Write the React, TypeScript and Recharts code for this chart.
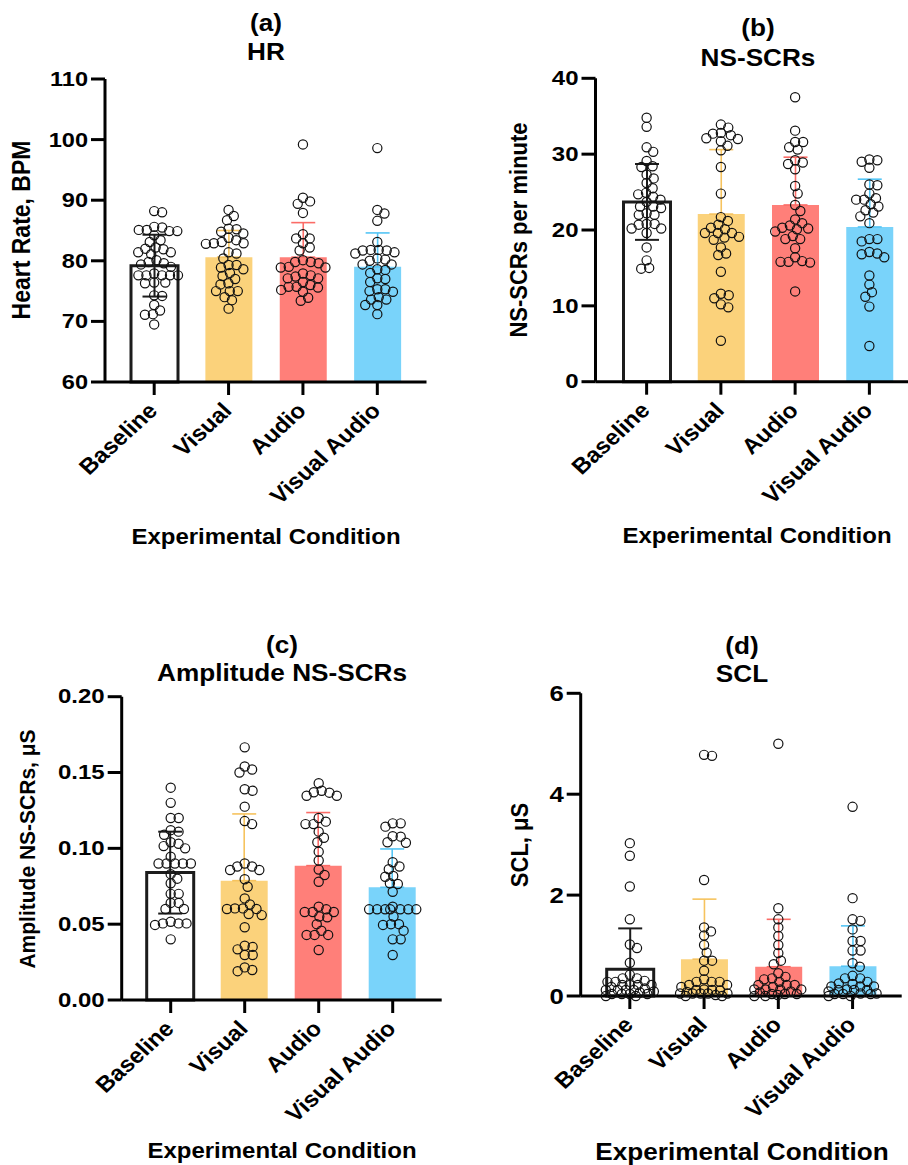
import React from "react";
import { Bar, Cell, ComposedChart, ErrorBar, Scatter, XAxis, YAxis } from "recharts";

const FONT = '"Liberation Sans", Arial, Helvetica, sans-serif';
const W = 908;
const H = 1165;

const conditions = ["Baseline", "Visual", "Audio", "Visual Audio"];
const barFill = ["#ffffff", "#fbd27b", "#ff7f79", "#79d3fa"];
const errStroke = ["#1c1c1c", "#f6c35e", "#fb6c67", "#54c5f5"];

// (a) heart rate
const hrMean = [79.2, 80.6, 80.6, 79.0];
const hrSd = [5.1, 4.4, 5.7, 5.6];
const hrBaseline = [88.2, 88.0, 85.6, 85.5, 85.1, 85.1, 84.9, 84.9, 84.2, 83.4, 83.1, 82.2, 82.0, 81.9, 81.4, 81.4, 81.1, 80.1, 79.8, 79.6, 79.4, 79.0, 77.9, 77.6, 77.6, 77.6, 77.6, 77.6, 76.4, 76.4, 76.3, 74.3, 74.2, 72.7, 71.8, 71.2, 71.1, 69.5];
const hrVisual = [88.4, 87.4, 86.7, 85.3, 85.2, 84.8, 84.5, 83.8, 83.4, 83.1, 82.9, 82.9, 82.8, 81.4, 81.2, 80.4, 79.3, 79.3, 78.9, 78.6, 78.0, 77.5, 77.0, 76.3, 76.1, 75.0, 75.0, 75.0, 74.0, 73.5, 72.1];
const hrAudio = [99.2, 90.4, 89.8, 89.4, 87.9, 84.4, 83.7, 83.7, 82.9, 82.2, 81.7, 80.1, 79.8, 79.8, 79.6, 79.0, 78.9, 78.9, 77.9, 77.6, 77.4, 77.1, 77.1, 76.5, 76.0, 75.7, 75.7, 75.6, 75.2, 74.9, 73.9, 73.4];
const hrVisualAudio = [98.6, 88.4, 87.8, 86.6, 83.1, 81.8, 81.8, 81.7, 81.7, 81.4, 81.2, 80.4, 80.2, 80.0, 79.4, 79.4, 78.6, 78.5, 78.0, 77.1, 77.0, 76.5, 75.3, 75.3, 75.0, 74.9, 74.0, 73.6, 73.6, 72.7, 72.7, 71.2];

// (b) NS-SCRs per minute
const scrMean = [23.7, 22.1, 23.3, 20.4];
const scrSd = [5.0, 8.5, 6.3, 6.3];
const scrBaseline = [34.8, 33.6, 30.9, 30.3, 29.1, 28.4, 28.3, 27.3, 26.8, 26.2, 25.5, 24.9, 24.7, 24.4, 24.0, 23.7, 23.1, 23.1, 22.9, 22.2, 22.0, 22.0, 20.8, 20.8, 20.7, 20.2, 20.2, 19.6, 17.7, 16.0, 15.0, 14.9];
const scrVisual = [33.9, 33.5, 32.8, 32.7, 32.5, 32.1, 32.0, 31.7, 31.1, 30.5, 28.3, 24.8, 21.7, 21.2, 20.7, 20.3, 20.1, 19.6, 19.6, 19.6, 19.1, 19.0, 18.7, 17.7, 16.9, 16.7, 14.5, 11.6, 11.4, 11.0, 10.2, 9.8, 5.4];
const scrAudio = [37.5, 33.1, 31.6, 31.6, 30.9, 30.6, 29.2, 28.9, 28.7, 28.0, 25.8, 24.8, 23.3, 22.5, 21.4, 20.9, 20.6, 20.3, 20.2, 20.1, 19.8, 19.2, 18.8, 18.8, 17.6, 16.4, 15.9, 15.8, 15.8, 15.7, 11.9];
const scrVisualAudio = [29.3, 29.2, 29.0, 28.2, 26.0, 25.9, 24.8, 24.2, 24.0, 24.0, 23.4, 23.1, 22.6, 22.3, 21.8, 20.9, 18.8, 18.8, 18.5, 17.1, 16.9, 16.8, 16.4, 14.0, 12.8, 11.8, 11.2, 9.9, 4.7];

// (c) amplitude of NS-SCRs
const ampMean = [0.084, 0.0787, 0.0886, 0.0743];
const ampSd = [0.027, 0.044, 0.035, 0.0253];
const ampBaseline = [0.14, 0.13, 0.12, 0.12, 0.112, 0.111, 0.109, 0.104, 0.103, 0.1015, 0.1, 0.0945, 0.09, 0.09, 0.09, 0.09, 0.09, 0.083, 0.08, 0.077, 0.07, 0.07, 0.064, 0.064, 0.06, 0.06, 0.0516, 0.0505, 0.0505, 0.0505, 0.0495, 0.04];
const ampVisual = [0.1666, 0.154, 0.152, 0.15, 0.139, 0.138, 0.1275, 0.118, 0.116, 0.09, 0.088, 0.088, 0.0857, 0.0857, 0.0796, 0.0747, 0.067, 0.063, 0.0604, 0.0604, 0.06, 0.06, 0.0567, 0.056, 0.048, 0.0358, 0.035, 0.0334, 0.0297, 0.0297, 0.0215, 0.0198, 0.019];
const ampAudio = [0.1429, 0.138, 0.137, 0.1367, 0.1347, 0.1347, 0.12, 0.1176, 0.116, 0.116, 0.111, 0.107, 0.104, 0.0978, 0.092, 0.086, 0.0824, 0.078, 0.0615, 0.0598, 0.058, 0.058, 0.058, 0.055, 0.0545, 0.05, 0.0457, 0.0429, 0.0429, 0.0429, 0.033];
const ampVisualAudio = [0.1165, 0.1165, 0.1143, 0.108, 0.1077, 0.104, 0.1037, 0.0908, 0.088, 0.0862, 0.0818, 0.0813, 0.077, 0.0765, 0.0714, 0.0615, 0.0598, 0.0598, 0.0598, 0.0598, 0.0598, 0.0598, 0.0598, 0.055, 0.05, 0.05, 0.0495, 0.0457, 0.04, 0.04, 0.0297];

// (d) skin conductance level
const sclMean = [0.53, 0.73, 0.58, 0.59];
const sclSd = [0.81, 1.19, 0.94, 0.8];
const sclBaseline = [3.03, 2.78, 2.17, 1.52, 1.02, 0.95, 0.66, 0.42, 0.35, 0.35, 0.3, 0.28, 0.28, 0.22, 0.22, 0.22, 0.22, 0.18, 0.15, 0.12, 0.12, 0.12, 0.12, 0.09, 0.07, 0.04, 0.04, 0.04, 0.04, 0.0, 0.0];
const sclVisual = [4.78, 4.76, 2.3, 1.36, 1.28, 1.2, 1.01, 0.86, 0.7, 0.7, 0.5, 0.33, 0.28, 0.28, 0.28, 0.22, 0.22, 0.18, 0.13, 0.12, 0.12, 0.11, 0.08, 0.05, 0.05, 0.05, 0.05, 0.05, 0.02, 0.0, 0.0];
const sclAudio = [5.0, 1.74, 1.52, 1.36, 1.19, 1.01, 0.85, 0.7, 0.63, 0.45, 0.38, 0.35, 0.33, 0.28, 0.22, 0.22, 0.22, 0.18, 0.13, 0.13, 0.13, 0.13, 0.09, 0.07, 0.04, 0.04, 0.04, 0.02, 0.0, 0.0];
const sclVisualAudio = [3.75, 1.94, 1.52, 1.49, 1.32, 1.09, 1.09, 0.9, 0.9, 0.65, 0.58, 0.4, 0.35, 0.35, 0.28, 0.25, 0.24, 0.19, 0.19, 0.19, 0.13, 0.12, 0.12, 0.12, 0.09, 0.05, 0.05, 0.04, 0.04, 0.04, 0.0, 0.0];

type PanelCfg = {
  box: { left: number; top: number; right: number; bottom: number };
  pad: [number, number];
  domain: [number, number];
  ticks: number[];
  decimals: number;
  mean: number[];
  sd: number[];
  dots: number[][];
  title: [string, string];
  titleAt: [number, number, number];
  yLabel: string;
  yLabelAt: [number, number];
  yLabelSize: number;
  xTitleAt: [number, number];
  xTitleSize: number;
  yTickSize: number;
  yTickSx: number;
};

const panels: PanelCfg[] = [
  {
    box: { left: 105, top: 79, right: 426.5, bottom: 382 },
    pad: [12, 12],
    domain: [60, 110],
    ticks: [60, 70, 80, 90, 100, 110],
    decimals: 0,
    mean: hrMean,
    sd: hrSd,
    dots: [hrBaseline, hrVisual, hrAudio, hrVisualAudio],
    title: ["(a)", "HR"],
    titleAt: [266, 23, 52],
    yLabel: "Heart Rate, BPM",
    yLabelAt: [21.5, 230],
    yLabelSize: 23,
    xTitleAt: [266, 537],
    xTitleSize: 22,
    yTickSize: 20.5,
    yTickSx: 1.15,
  },
  {
    box: { left: 595.5, top: 78.3, right: 908, bottom: 381.7 },
    pad: [14, 1.5],
    domain: [0, 40],
    ticks: [0, 10, 20, 30, 40],
    decimals: 0,
    mean: scrMean,
    sd: scrSd,
    dots: [scrBaseline, scrVisual, scrAudio, scrVisualAudio],
    title: ["(b)", "NS-SCRs"],
    titleAt: [757.5, 28, 58],
    yLabel: "NS-SCRs per minute",
    yLabelAt: [519, 230],
    yLabelSize: 22,
    xTitleAt: [757, 536],
    xTitleSize: 22,
    yTickSize: 20,
    yTickSx: 1.2,
  },
  {
    box: { left: 121.7, top: 696.7, right: 441.7, bottom: 1000 },
    pad: [12, 12],
    domain: [0, 0.2],
    ticks: [0, 0.05, 0.1, 0.15, 0.2],
    decimals: 2,
    mean: ampMean,
    sd: ampSd,
    dots: [ampBaseline, ampVisual, ampAudio, ampVisualAudio],
    title: ["(c)", "Amplitude NS-SCRs"],
    titleAt: [281.5, 645, 673],
    yLabel: "Amplitude NS-SCRs, \u03bcS",
    yLabelAt: [27, 849],
    yLabelSize: 21,
    xTitleAt: [281.5, 1151],
    xTitleSize: 22,
    yTickSize: 20,
    yTickSx: 1.2,
  },
  {
    box: { left: 580.7, top: 693.3, right: 901.7, bottom: 996 },
    pad: [12, 12],
    domain: [0, 6],
    ticks: [0, 2, 4, 6],
    decimals: 0,
    mean: sclMean,
    sd: sclSd,
    dots: [sclBaseline, sclVisual, sclAudio, sclVisualAudio],
    title: ["(d)", "SCL"],
    titleAt: [741.5, 646, 674],
    yLabel: "SCL, \u03bcS",
    yLabelAt: [520, 845],
    yLabelSize: 22,
    xTitleAt: [742, 1152],
    xTitleSize: 24,
    yTickSize: 23,
    yTickSx: 1.12,
  },
];

// beeswarm layout: horizontal pixel offsets so circles in one column do not pile up
function swarm(vals: number[], pxPerUnit: number): number[] {
  const D = 8;
  const MAX = 24;
  const order = vals.map((_, i) => i).sort((a, b) => vals[b] - vals[a]);
  const placed: { x: number; y: number }[] = [];
  const out = new Array(vals.length).fill(0);
  for (const i of order) {
    const y = vals[i] * pxPerUnit;
    const near = placed.filter((p) => Math.abs(p.y - y) < D);
    const cands = [0];
    for (const p of near) {
      const dx = Math.sqrt(D * D - (p.y - y) ** 2);
      cands.push(p.x + dx, p.x - dx);
    }
    const ok = cands
      .filter((c) => Math.abs(c) <= MAX + 1e-6 && near.every((p) => (p.x - c) ** 2 + (p.y - y) ** 2 >= D * D - 0.01))
      .sort((a, b) => Math.abs(a) - Math.abs(b));
    let x = 0;
    if (ok.length) {
      x = ok[0];
    } else {
      let best = Infinity;
      for (let c = -MAX; c <= MAX; c += 0.5) {
        let s = 0;
        for (const p of near) s += Math.max(0, D - Math.hypot(p.x - c, p.y - y)) ** 2;
        if (s < best - 1e-9 || (Math.abs(s - best) < 1e-9 && Math.abs(c) < Math.abs(x))) {
          best = s;
          x = c;
        }
      }
    }
    placed.push({ x, y });
    out[i] = x;
  }
  return out;
}

const Ring = (props: any) => (
  <circle cx={props.cx} cy={props.cy} r={4.6} fill="none" stroke="#111" strokeWidth={1.2} />
);

const XTick = (props: any) => {
  const { x, y, payload } = props;
  return (
    <text
      transform={`translate(${x + 4.5},${y + 15}) scale(1.09,1) rotate(-45)`}
      textAnchor="end"
      fontSize={22}
      fontWeight={700}
      fontFamily={FONT}
      fill="#000"
    >
      {payload.value}
    </text>
  );
};

const makeYTick = (decimals: number, size: number, sx: number) => (props: any) => {
  const { x, y, payload } = props;
  return (
    <text
      transform={`translate(${x},${y}) scale(${sx},1)`}
      textAnchor="end"
      dominantBaseline="central"
      fontSize={size}
      fontWeight={700}
      fontFamily={FONT}
      fill="#000"
    >
      {Number(payload.value).toFixed(decimals)}
    </text>
  );
};

const Txt = ({ x, y, size, rotate, children }: { x: number; y: number; size: number; rotate?: boolean; children: React.ReactNode }) => (
  <div
    style={{
      position: "absolute",
      left: x,
      top: y,
      transform: `translate(-50%,-50%) scaleX(1.09)${rotate ? " rotate(-90deg)" : ""}`,
      fontSize: size,
      fontWeight: 700,
      lineHeight: 1,
      whiteSpace: "nowrap",
      fontFamily: FONT,
      color: "#000",
    }}
  >
    {children}
  </div>
);

function Panel({ cfg }: { cfg: PanelCfg }) {
  const { box, pad, domain } = cfg;
  const band = (box.right - box.left - pad[0] - pad[1]) / 4;
  const pxPerUnit = (box.bottom - box.top) / (domain[1] - domain[0]);

  const rows = conditions.map((name, i) => {
    const row: any = { name, mean: cfg.mean[i] };
    const lower = i === 0 ? Math.min(cfg.sd[i], cfg.mean[i] - domain[0]) : 0;
    row[`e${i}`] = [lower, cfg.sd[i]];
    return row;
  });

  const points = cfg.dots.flatMap((vals, i) => {
    const offs = swarm(vals, pxPerUnit);
    return vals.map((v, k) => ({ x: 2 * i + 1 + (2 * offs[k]) / band, y: v }));
  });

  const axisStyle = { stroke: "#000", strokeWidth: 3 };

  return (
    <div style={{ position: "absolute", left: 0, top: 0 }}>
      <ComposedChart
        width={W}
        height={H}
        data={rows}
        margin={{ top: box.top, left: box.left - 60, right: W - box.right, bottom: H - box.bottom - 20 }}
      >
        <XAxis
          xAxisId="cat"
          dataKey="name"
          type="category"
          height={20}
          interval={0}
          padding={{ left: pad[0], right: pad[1] }}
          tickSize={13}
          tickMargin={2}
          axisLine={axisStyle}
          tickLine={axisStyle}
          tick={XTick}
        />
        <XAxis
          xAxisId="num"
          dataKey="x"
          type="number"
          domain={[0, 8]}
          tickCount={5}
          padding={{ left: pad[0], right: pad[1] }}
          hide
        />
        <YAxis
          type="number"
          domain={domain}
          ticks={cfg.ticks}
          tickCount={cfg.ticks.length}
          interval={0}
          width={60}
          tickSize={14}
          tickMargin={3}
          axisLine={axisStyle}
          tickLine={axisStyle}
          tick={makeYTick(cfg.decimals, cfg.yTickSize, cfg.yTickSx)}
        />
        <Bar xAxisId="cat" dataKey="mean" barSize={47} isAnimationActive={false}>
          {conditions.map((c, i) => (
            <Cell key={c} fill={barFill[i]} stroke={i === 0 ? "#1c1c1c" : "none"} strokeWidth={i === 0 ? 3 : 0} />
          ))}
          {conditions.map((c, i) => (
            <ErrorBar
              key={c}
              dataKey={`e${i}`}
              direction="y"
              width={12}
              stroke={errStroke[i]}
              strokeWidth={i === 0 ? 2 : 1.6}
              isAnimationActive={false}
            />
          ))}
        </Bar>
        <Scatter xAxisId="num" data={points} dataKey="y" shape={Ring} isAnimationActive={false} />
      </ComposedChart>
      <Txt x={cfg.titleAt[0]} y={cfg.titleAt[1]} size={24}>
        {cfg.title[0]}
      </Txt>
      <Txt x={cfg.titleAt[0]} y={cfg.titleAt[2]} size={24}>
        {cfg.title[1]}
      </Txt>
      <Txt x={cfg.yLabelAt[0]} y={cfg.yLabelAt[1]} size={cfg.yLabelSize} rotate>
        {cfg.yLabel}
      </Txt>
      <Txt x={cfg.xTitleAt[0]} y={cfg.xTitleAt[1]} size={cfg.xTitleSize}>
        Experimental Condition
      </Txt>
    </div>
  );
}

export default function App() {
  return (
    <div style={{ position: "absolute", left: 0, top: 0, width: W, height: H, overflow: "hidden", background: "#fff", fontFamily: FONT }}>
      {panels.map((p, i) => (
        <Panel key={i} cfg={p} />
      ))}
    </div>
  );
}
